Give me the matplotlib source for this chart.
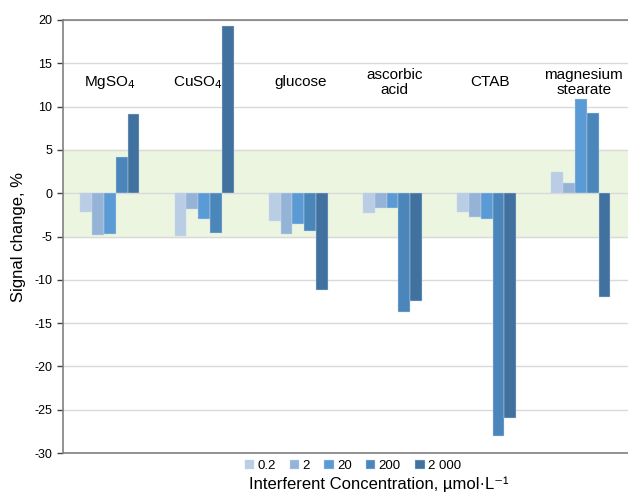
import matplotlib
matplotlib.use("Agg")
import matplotlib.pyplot as plt
import numpy as np

plt.rcParams['font.family'] = ['Liberation Sans', 'DejaVu Sans']
plt.rcParams['axes.unicode_minus'] = False

groups = ['MgSO$_4$', 'CuSO$_4$', 'glucose', 'ascorbic\nacid', 'CTAB', 'magnesium\nstearate']
series = ['0.2', '2', '20', '200', '2 000']
values = {
    '0.2':   [-2.2, -4.9, -3.2, -2.3, -2.2, 2.4],
    '2':     [-4.8, -1.8, -4.7, -1.7, -2.7, 1.2],
    '20':    [-4.7, -3.0, -3.5, -1.7, -3.0, 10.9],
    '200':   [4.2, -4.6, -4.35, -13.7, -28.0, 9.3],
    '2 000': [9.1, 19.3, -11.2, -12.5, -26.0, -12.0],
}
colors = ['#B9CDE5', '#95B3D7', '#5B9BD5', '#4A86BA', '#41729F']
label_dx = [0.0, -0.07, 0.02, 0.02, 0.04, 0.03]

fig = plt.figure(figsize=(6.28, 4.99), dpi=100)
ax = fig.add_axes([0.100, 0.092, 0.900, 0.868])

x = np.arange(len(groups))
w = 0.125
ax.axhspan(-5, 5, color='#EBF5E0', zorder=0)
for i, s in enumerate(series):
    ax.bar(x + (i - 2) * w, values[s], width=w, color=colors[i],
           edgecolor='#C9D9EC', linewidth=0.3, label=s, zorder=3)

for i, g in enumerate(groups):
    ax.text(x[i] + label_dx[i], 12.8, g, ha='center', va='center',
            fontsize=11, color='#000000', linespacing=1.05, zorder=4)

ax.set_xlim(-0.5, len(groups) - 0.5)
ax.set_ylim(-30, 20)
ax.set_yticks(np.arange(-30, 21, 5))
ax.set_xticks([])
ax.grid(axis='y', color='#D9D9D9', linewidth=1, zorder=1)
ax.set_axisbelow(True)
for side in ['top', 'bottom', 'left']:
    ax.spines[side].set_color('#808080')
    ax.spines[side].set_linewidth(1.2)
ax.spines['right'].set_visible(False)
ax.tick_params(axis='y', labelsize=9, colors='#404040', length=4,
               direction='out', width=1)
ax.tick_params(axis='y', labelcolor='#000000')

ax.set_ylabel('Signal change, %', fontsize=12, labelpad=6)
fig.text(0.603, 0.030, 'Interferent Concentration, µmol·L⁻¹',
         ha='center', va='center', fontsize=12)
ax.legend(loc='upper center', bbox_to_anchor=(0.513, -0.003), ncol=5,
          frameon=False, fontsize=9.5, handlelength=0.7, handleheight=0.7,
          handletextpad=0.25, columnspacing=1.1, borderaxespad=0)

fig.savefig('out.png', dpi=100)
